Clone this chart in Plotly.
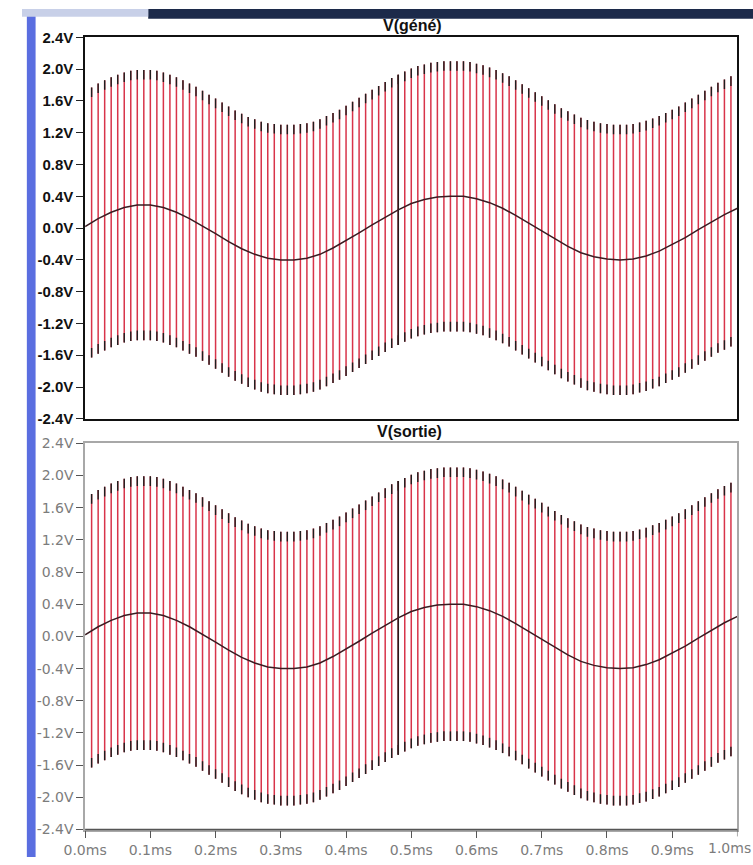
import plotly.graph_objects as go

# ---------------- data ----------------
pulse_t = [0.01, 0.02, 0.03, 0.04, 0.05, 0.06, 0.07, 0.08, 0.09, 0.10,
           0.11, 0.12, 0.13, 0.14, 0.15, 0.16, 0.17, 0.18, 0.19, 0.20,
           0.21, 0.22, 0.23, 0.24, 0.25, 0.26, 0.27, 0.28, 0.29, 0.30,
           0.31, 0.32, 0.33, 0.34, 0.35, 0.36, 0.37, 0.38, 0.39, 0.40,
           0.41, 0.42, 0.43, 0.44, 0.45, 0.46, 0.47, 0.48, 0.49, 0.50,
           0.51, 0.52, 0.53, 0.54, 0.55, 0.56, 0.57, 0.58, 0.59, 0.60,
           0.61, 0.62, 0.63, 0.64, 0.65, 0.66, 0.67, 0.68, 0.69, 0.70,
           0.71, 0.72, 0.73, 0.74, 0.75, 0.76, 0.77, 0.78, 0.79, 0.80,
           0.81, 0.82, 0.83, 0.84, 0.85, 0.86, 0.87, 0.88, 0.89, 0.90,
           0.91, 0.92, 0.93, 0.94, 0.95, 0.96, 0.97, 0.98, 0.99]

gene_top = [1.77, 1.82, 1.86, 1.90, 1.93, 1.96, 1.98, 1.99, 1.99, 1.99,
            1.98, 1.96, 1.93, 1.90, 1.86, 1.82, 1.78, 1.73, 1.68, 1.63,
            1.58, 1.53, 1.48, 1.44, 1.40, 1.37, 1.34, 1.32, 1.31, 1.30,
            1.30, 1.30, 1.31, 1.32, 1.34, 1.37, 1.41, 1.45, 1.49, 1.54,
            1.59, 1.64, 1.69, 1.74, 1.79, 1.84, 1.89, 1.93, 1.97, 2.01,
            2.04, 2.06, 2.08, 2.09, 2.10, 2.10, 2.10, 2.10, 2.09, 2.07,
            2.05, 2.02, 1.99, 1.95, 1.91, 1.86, 1.81, 1.76, 1.71, 1.66,
            1.61, 1.56, 1.51, 1.47, 1.43, 1.39, 1.36, 1.34, 1.32, 1.31,
            1.30, 1.30, 1.30, 1.31, 1.33, 1.35, 1.38, 1.41, 1.45, 1.49,
            1.53, 1.58, 1.63, 1.68, 1.73, 1.78, 1.83, 1.87, 1.91]

gene_bottom = [-1.63, -1.58, -1.54, -1.50, -1.47, -1.44, -1.42, -1.41, -1.41, -1.41,
               -1.42, -1.44, -1.47, -1.50, -1.54, -1.58, -1.62, -1.67, -1.72, -1.77,
               -1.82, -1.87, -1.92, -1.96, -2.00, -2.03, -2.06, -2.08, -2.09, -2.10,
               -2.10, -2.10, -2.09, -2.08, -2.06, -2.03, -1.99, -1.95, -1.91, -1.86,
               -1.81, -1.76, -1.71, -1.66, -1.61, -1.56, -1.51, -1.47, -1.43, -1.39,
               -1.36, -1.34, -1.32, -1.31, -1.30, -1.30, -1.30, -1.30, -1.31, -1.33,
               -1.35, -1.38, -1.41, -1.45, -1.49, -1.54, -1.59, -1.64, -1.69, -1.74,
               -1.79, -1.84, -1.89, -1.93, -1.97, -2.01, -2.04, -2.06, -2.08, -2.09,
               -2.10, -2.10, -2.10, -2.09, -2.07, -2.05, -2.02, -1.99, -1.95, -1.91,
               -1.87, -1.82, -1.77, -1.72, -1.67, -1.62, -1.57, -1.53, -1.49]

mid_t = [0.00, 0.02, 0.04, 0.06, 0.08, 0.10, 0.12, 0.14, 0.16, 0.18,
         0.20, 0.22, 0.24, 0.26, 0.28, 0.30, 0.32, 0.34, 0.36, 0.38,
         0.40, 0.42, 0.44, 0.46, 0.48, 0.50, 0.52, 0.54, 0.56, 0.58,
         0.60, 0.62, 0.64, 0.66, 0.68, 0.70, 0.72, 0.74, 0.76, 0.78,
         0.80, 0.82, 0.84, 0.86, 0.88, 0.90, 0.92, 0.94, 0.96, 0.98, 1.00]
gene_mid = [0.02, 0.12, 0.20, 0.26, 0.29, 0.29, 0.26, 0.20, 0.12, 0.03,
            -0.07, -0.17, -0.26, -0.33, -0.38, -0.40, -0.40, -0.38, -0.33, -0.25,
            -0.16, -0.06, 0.04, 0.14, 0.23, 0.31, 0.36, 0.39, 0.40, 0.40,
            0.37, 0.32, 0.25, 0.16, 0.06, -0.04, -0.14, -0.23, -0.31, -0.36,
            -0.39, -0.40, -0.39, -0.35, -0.29, -0.21, -0.12, -0.02, 0.08, 0.17, 0.25]

# V(sortie) reads identical to V(géné)
sortie_top = list(gene_top)
sortie_bottom = list(gene_bottom)
sortie_mid = list(gene_mid)

dark_pulse_t = [0.48]

y_tickvals = [2.4, 2.0, 1.6, 1.2, 0.8, 0.4, 0.0, -0.4, -0.8, -1.2, -1.6, -2.0, -2.4]
y_ticktext = ["2.4V", "2.0V", "1.6V", "1.2V", "0.8V", "0.4V", "0.0V",
              "-0.4V", "-0.8V", "-1.2V", "-1.6V", "-2.0V", "-2.4V"]
x_tickvals = [0.0, 0.1, 0.2, 0.3, 0.4, 0.5, 0.6, 0.7, 0.8, 0.9, 1.0]
x_ticktext = ["0.0ms", "0.1ms", "0.2ms", "0.3ms", "0.4ms", "0.5ms",
              "0.6ms", "0.7ms", "0.8ms", "0.9ms", "1.0ms"]

titles = ["V(géné)", "V(sortie)"]

# ---------------- styling ----------------
RED = "#d8344a"
TIP = "#1e1e1e"
TIP_LEN = 0.12


def seg_xy(ts, y0s, y1s):
    xs, ys = [], []
    for t, a, b in zip(ts, y0s, y1s):
        xs += [t, t, None]
        ys += [a, b, None]
    return xs, ys


fig = go.Figure()

panels = [
    ("x", "y", gene_top, gene_bottom, gene_mid),
    ("x2", "y2", sortie_top, sortie_bottom, sortie_mid),
]

for xa, ya, top, bot, mid in panels:
    xs, ys = seg_xy(pulse_t, bot, top)
    fig.add_trace(go.Scatter(x=xs, y=ys, mode="lines", xaxis=xa, yaxis=ya,
                             line=dict(color=RED, width=1.5), hoverinfo="skip",
                             showlegend=False))
    # dark tips at top and bottom of each pulse
    xs, ys = seg_xy(pulse_t, [v - TIP_LEN for v in top], top)
    xb, yb = seg_xy(pulse_t, bot, [v + TIP_LEN for v in bot])
    fig.add_trace(go.Scatter(x=xs + xb, y=ys + yb, mode="lines", xaxis=xa, yaxis=ya,
                             line=dict(color=TIP, width=1.4), hoverinfo="skip",
                             showlegend=False))
    # one darker full pulse
    idx = [pulse_t.index(t) for t in dark_pulse_t]
    xs, ys = seg_xy([pulse_t[i] for i in idx], [bot[i] for i in idx], [top[i] for i in idx])
    fig.add_trace(go.Scatter(x=xs, y=ys, mode="lines", xaxis=xa, yaxis=ya,
                             line=dict(color="#2a1a1a", width=1.6), hoverinfo="skip",
                             showlegend=False))
    # low-frequency mid trace
    fig.add_trace(go.Scatter(x=mid_t, y=mid, mode="lines", xaxis=xa, yaxis=ya,
                             line=dict(color="#3a1c22", width=1.5), hoverinfo="skip",
                             showlegend=False))

W, H = 753, 865
xdom = [65 / W, 737 / W]
top_dom = [1 - 418 / H, 1 - 29 / H]
bot_dom = [1 - 837 / H, 1 - 443 / H]

font_bold = "Liberation Sans, Arial, sans-serif"
font_gray = "DejaVu Sans, sans-serif"
GRAY_TXT = "#7c7c7c"

fig.update_layout(
    width=W, height=H,
    margin=dict(l=0, r=0, t=0, b=0),
    paper_bgcolor="#ffffff",
    plot_bgcolor="#ffffff",
    showlegend=False,
    xaxis=dict(domain=xdom, range=[0, 1], anchor="y", showgrid=False, zeroline=False,
               showticklabels=False, ticks="", showline=True, mirror=True,
               linecolor="#111111", linewidth=1.5),
    yaxis=dict(domain=top_dom, range=[-2.4, 2.4], anchor="x", showgrid=False, zeroline=False,
               tickvals=y_tickvals, ticktext=y_ticktext, ticks="outside", ticklen=7,
               tickcolor="#222222", tickwidth=1,
               tickfont=dict(family=font_bold, size=15, color="#111111", weight="bold"),
               showline=True, mirror=True, linecolor="#111111", linewidth=1.5),
    xaxis2=dict(domain=xdom, range=[0, 1], anchor="y2", showgrid=False, zeroline=False,
                tickvals=x_tickvals[:-1], ticktext=x_ticktext[:-1], ticks="outside", ticklen=7,
                tickcolor="#555555",
                tickfont=dict(family=font_gray, size=14, color=GRAY_TXT),
                showline=True, mirror=True, linecolor="#a8a8a8", linewidth=1.5),
    yaxis2=dict(domain=bot_dom, range=[-2.4, 2.4], anchor="x2", showgrid=False, zeroline=False,
                tickvals=y_tickvals, ticktext=y_ticktext, ticks="outside", ticklen=7,
                tickcolor="#555555",
                tickfont=dict(family=font_gray, size=14, color=GRAY_TXT),
                showline=True, mirror=True, linecolor="#a8a8a8", linewidth=1.5),
)

# bottom axis line darker, as in the reference
fig.add_shape(type="line", xref="x2 domain", yref="y2 domain", x0=0, x1=1, y0=0, y1=0,
              line=dict(color="#555555", width=1.5))
# last tick at the window edge
fig.add_shape(type="line", xref="x2", yref="paper", x0=x_tickvals[-1], x1=x_tickvals[-1],
              y0=1 - 844 / H, y1=1 - 837 / H, line=dict(color="#555555", width=1))
fig.add_annotation(text=x_ticktext[-1], xref="paper", yref="paper", x=1.0,
                   y=1 - 846 / H, yanchor="top", xanchor="right", showarrow=False,
                   font=dict(family=font_gray, size=14, color=GRAY_TXT))

# panel titles
fig.add_annotation(text=f"<b>{titles[0]}</b>", xref="paper", yref="paper",
                   x=402 / W, y=1 - 17 / H, xanchor="center", yanchor="middle",
                   showarrow=False, font=dict(family=font_bold, size=16, color="#111111"))
fig.add_annotation(text=f"<b>{titles[1]}</b>", xref="paper", yref="paper",
                   x=399 / W, y=1 - 431 / H, xanchor="center", yanchor="middle",
                   showarrow=False, font=dict(family=font_bold, size=16, color="#111111"))

# window decoration (blue left border, dark title bar)
fig.add_shape(type="rect", xref="paper", yref="paper", x0=5 / W, x1=14 / W, y0=0, y1=1,
              fillcolor="#5a6ee0", line=dict(width=0), layer="below")
fig.add_shape(type="rect", xref="paper", yref="paper", x0=130 / W, x1=1, y0=1 - 10 / H, y1=1,
              fillcolor="#1c2a4a", line=dict(width=0), layer="below")
fig.add_shape(type="rect", xref="paper", yref="paper", x0=0, x1=130 / W, y0=1 - 8 / H, y1=1,
              fillcolor="#c8d0e8", line=dict(width=0), layer="below")

fig.write_html(
    "out.html",
    post_script="document.body.style.margin='0';"
                "document.documentElement.style.overflow='hidden';",
)
